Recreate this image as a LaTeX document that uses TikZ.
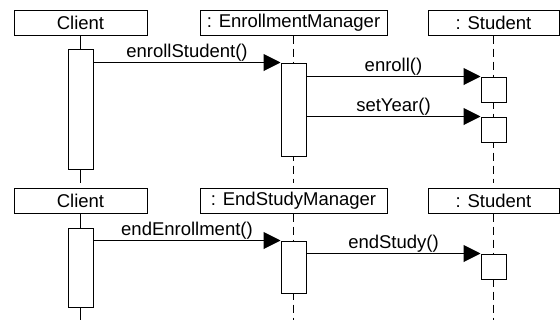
\documentclass[tikz,border=0pt]{standalone}
\usepackage{fontspec}
\setmainfont{Liberation Sans}
\usetikzlibrary{arrows.meta}

\tikzset{
  head/.style={draw, minimum height=25pt, inner sep=0pt},
  act/.style={draw, fill=white, minimum width=25pt, inner sep=0pt},
  msg/.style={-{Triangle[length=17pt,width=17pt]}},
  lifeline/.style={dash pattern=on 8pt off 5pt},
}

\begin{document}
\begin{tikzpicture}[x=1pt, y=-1pt, line width=1pt,
    every node/.style={font=\fontsize{18.5}{20}\selectfont}]
  \useasboundingbox (0,0) rectangle (560,322);

  % first diagram
  \node[head, minimum width=133pt] (client1) at (80.5,22.5) {Client};
  \node[head, minimum width=187pt] (em1) at (293.5,22.5) {: EnrollmentManager};
  \node[head, minimum width=131pt] (stud1) at (493.5,22.5) {: Student};
  \coordinate (end1) at (0,183);

  \draw (client1.south) -- (client1.south |- end1);
  \draw[lifeline] (em1.south) -- (em1.south |- end1);
  \draw[lifeline] (stud1.south) -- (stud1.south |- end1);

  \node[act, minimum height=120pt] (clientact1) at (80.5,109) {};
  \node[act, minimum height=93pt] (emact1) at (293.5,109.5) {};
  \node[act, minimum height=25pt] (studact1) at (493.5,89.5) {};
  \node[act, minimum height=25pt] (studact2) at (493.5,129.5) {};

  \draw[msg] (clientact1.east |- emact1.north) -- node[above, inner sep=1pt] {enrollStudent()} (emact1.north west);
  \draw[msg] (emact1.east |- studact1.north) -- node[above, inner sep=1pt] {enroll()} (studact1.north west);
  \draw[msg] (emact1.east |- studact2.north) -- node[above, inner sep=1pt] {setYear()} (studact2.north west);

  % second diagram
  \node[head, minimum width=133pt] (client2) at (80.5,200.5) {Client};
  \node[head, minimum width=187pt] (esm2) at (293.5,200.5) {: EndStudyManager};
  \node[head, minimum width=131pt] (stud3) at (493.5,200.5) {: Student};
  \coordinate (end2) at (0,320);

  \draw (client2.south) -- (client2.south |- end2);
  \draw[lifeline] (esm2.south) -- (esm2.south |- end2);
  \draw[lifeline] (stud3.south) -- (stud3.south |- end2);

  \node[act, minimum height=79pt] (clientact2) at (80.5,267.5) {};
  \node[act, minimum height=52pt] (esmact2) at (293.5,267) {};
  \node[act, minimum height=25pt] (studact3) at (493.5,266.5) {};

  \draw[msg] (clientact2.east |- esmact2.north) -- node[above, inner sep=1pt] {endEnrollment()} (esmact2.north west);
  \draw[msg] (esmact2.east |- studact3.north) -- node[above, inner sep=1pt] {endStudy()} (studact3.north west);
\end{tikzpicture}
\end{document}
